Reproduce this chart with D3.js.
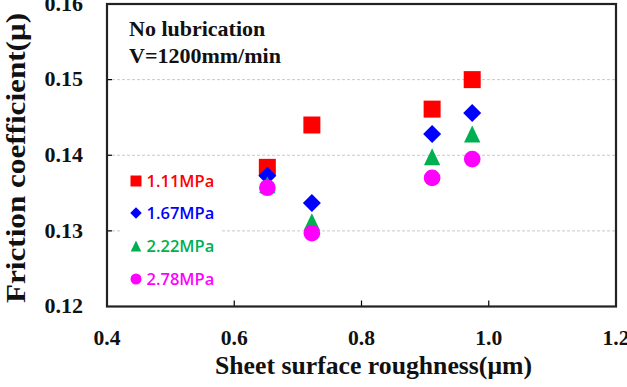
<!DOCTYPE html>
<html><head><meta charset="utf-8">
<script src="https://cdn.jsdelivr.net/npm/d3@7"></script>
<style>html,body{margin:0;padding:0;background:#fff;}svg{display:block;}</style>
</head><body>
<svg id="chart" width="627" height="387"></svg>
<script>
const roughness = [0.652, 0.722, 0.911, 0.974];
const seriesNames = ["1.11MPa", "1.67MPa", "2.22MPa", "2.78MPa"];
const p111 = [0.1384, 0.1440, 0.1461, 0.1500];
const p167 = [0.1373, 0.1337, 0.1428, 0.1456];
const p222 = [0.1361, 0.1312, 0.1398, 0.1428];
const p278 = [0.1357, 0.1297, 0.1370, 0.1395];
const xTicks = [0.4, 0.6, 0.8, 1.0, 1.2];
const yTicks = [0.12, 0.13, 0.14, 0.15, 0.16];
const gridTicks = [0.13, 0.14, 0.15];

const colors = ["#ff0000", "#0000ff", "#00b050", "#ff00ff"];
const shapes = ["square", "diamond", "triangle", "circle"];
const allSeries = [p111, p167, p222, p278];

const svg = d3.select("#chart");
const L = 107, R = 616, T = 4, B = 306.5;
const x = d3.scaleLinear().domain([0.4, 1.2]).range([L, R]);
const y = d3.scaleLinear().domain([0.12, 0.16]).range([B, T]);

const serif = "'Liberation Serif','Times New Roman',serif";

const sym = {
  square: {draw(ctx, s){const h=s/2;ctx.moveTo(-h,-h);ctx.lineTo(h,-h);ctx.lineTo(h,h);ctx.lineTo(-h,h);ctx.closePath();}},
  diamond: {draw(ctx, s){const h=s/2;ctx.moveTo(0,-h);ctx.lineTo(h,0);ctx.lineTo(0,h);ctx.lineTo(-h,0);ctx.closePath();}},
  triangle: {draw(ctx, s){const h=s/2, w=s*0.48;ctx.moveTo(0,-h);ctx.lineTo(w,h);ctx.lineTo(-w,h);ctx.closePath();}},
  circle: {draw(ctx, s){const r=s/2;ctx.moveTo(r,0);ctx.arc(0,0,r,0,2*Math.PI);}}
};
const mainSize = {square:17, diamond:18, triangle:17, circle:16.7};
const legSize = {square:11, diamond:11.5, triangle:11, circle:11};

// grid
svg.append("g").selectAll("line").data(gridTicks).join("line")
  .attr("x1", L).attr("x2", R).attr("y1", d => y(d)).attr("y2", d => y(d))
  .attr("stroke", "#c8c8c8").attr("stroke-width", 1).attr("stroke-dasharray", "3,2");

// inner ticks
svg.append("g").selectAll("line").data(xTicks.slice(1, -1)).join("line")
  .attr("x1", d => x(d)).attr("x2", d => x(d)).attr("y1", B).attr("y2", B - 6)
  .attr("stroke", "#000").attr("stroke-width", 1.2);
svg.append("g").selectAll("line").data(gridTicks).join("line")
  .attr("x1", L).attr("x2", L + 5).attr("y1", d => y(d)).attr("y2", d => y(d))
  .attr("stroke", "#000").attr("stroke-width", 1.2);

// legend background
const legG = svg.append("g");
legG.append("rect").attr("x", 121).attr("y", 168).attr("width", 101).attr("height", 124).attr("fill", "#fff");

// frame
svg.append("rect").attr("x", L).attr("y", T).attr("width", R - L).attr("height", B - T)
  .attr("fill", "none").attr("stroke", "#222").attr("stroke-width", 2.2);

// tick labels
svg.append("g").selectAll("text").data(yTicks).join("text")
  .attr("transform", d => `translate(83,${y(d)}) scale(1.1,1)`).attr("dy", "0.34em").attr("text-anchor", "end")
  .attr("font-family", serif).attr("font-weight", "bold").attr("font-size", 20).attr("fill", "#111")
  .text(d => d3.format(".2f")(d));
svg.append("g").selectAll("text").data(xTicks).join("text")
  .attr("transform", d => `translate(${x(d)},345) scale(1.08,1)`).attr("text-anchor", "middle")
  .attr("font-family", serif).attr("font-weight", "bold").attr("font-size", 20).attr("fill", "#111")
  .text(d => d3.format(".1f")(d));

// axis titles
svg.append("text").attr("x", 373.5).attr("y", 374).attr("text-anchor", "middle")
  .attr("font-family", serif).attr("font-weight", "bold").attr("font-size", 25).attr("fill", "#111")
  .attr("textLength", 317).attr("lengthAdjust", "spacingAndGlyphs")
  .text("Sheet surface roughness(\u03bcm)");
svg.append("text").attr("transform", "translate(25,158) rotate(-90)").attr("text-anchor", "middle")
  .attr("font-family", serif).attr("font-weight", "bold").attr("font-size", 27.5).attr("fill", "#111")
  .attr("textLength", 290).attr("lengthAdjust", "spacingAndGlyphs")
  .text("Friction coefficient(\u03bc)");

// annotation
const ann = svg.append("text").attr("font-family", serif).attr("font-weight", "bold").attr("font-size", 22).attr("fill", "#111");
ann.append("tspan").attr("x", 129).attr("y", 36).text("No lubrication");
ann.append("tspan").attr("x", 129).attr("y", 63).text("V=1200mm/min");

// points
allSeries.forEach((vals, i) => {
  const shp = shapes[i];
  svg.append("g").selectAll("path").data(vals).join("path")
    .attr("transform", (d, j) => `translate(${x(roughness[j])},${y(d)})`)
    .attr("d", d3.symbol(sym[shp], mainSize[shp])())
    .attr("fill", colors[i]);
});

// legend
const legY = [181, 213, 246, 279];
seriesNames.forEach((name, i) => {
  const shp = shapes[i];
  legG.append("path").attr("transform", `translate(136,${legY[i]})`)
    .attr("d", d3.symbol(sym[shp], legSize[shp])()).attr("fill", colors[i]);
  legG.append("text").attr("x", 146.5).attr("y", legY[i]).attr("dy", "0.36em")
    .attr("font-family", "'Open Sans',sans-serif").attr("font-weight", 600).attr("font-size", 16.5)
    .attr("fill", colors[i]).text(name);
});
</script>
</body></html>
